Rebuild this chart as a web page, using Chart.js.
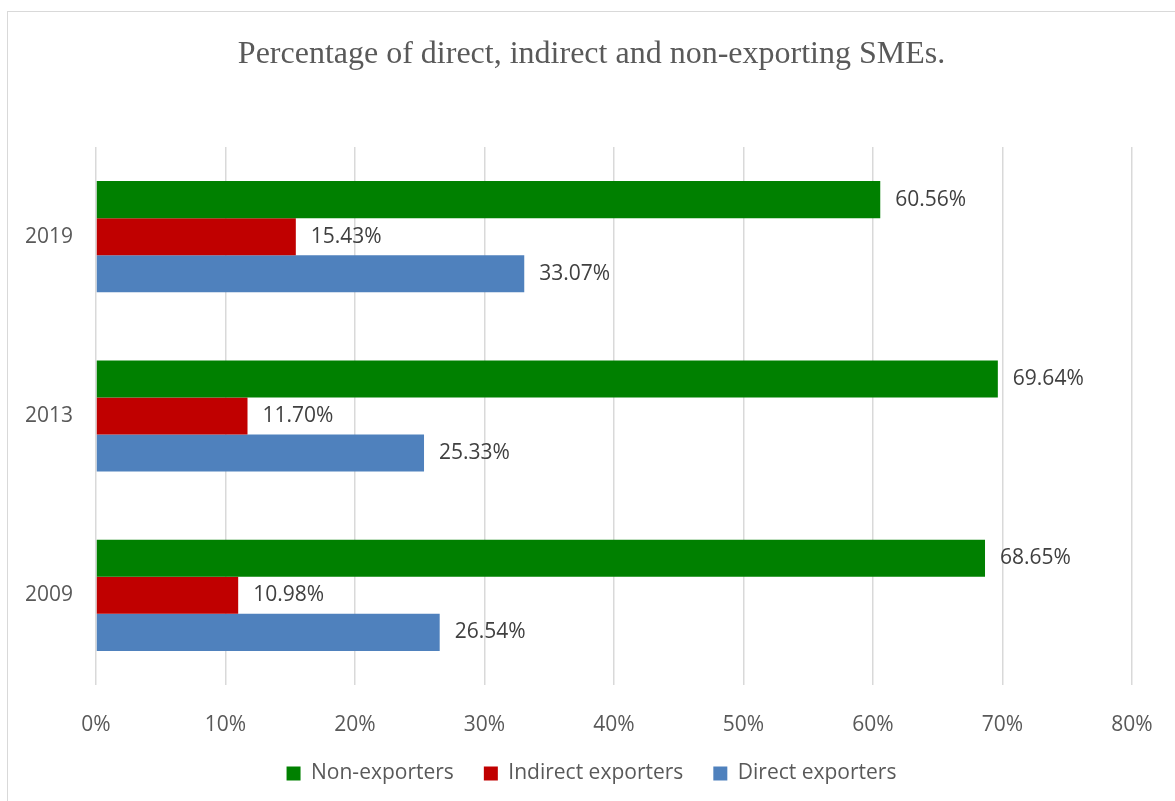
<!DOCTYPE html>
<html>
<head>
<meta charset="utf-8">
<script src="https://cdn.jsdelivr.net/npm/chart.js@4"></script>
<style>
  html, body { margin: 0; padding: 0; background: #fff; overflow: hidden; }
  #wrap { position: relative; width: 1175px; height: 801px; overflow: hidden; }
  #frame { position: absolute; left: 7px; top: 11px; width: 1200px; height: 830px; border: 1.5px solid #d9d9d9; }
  #c { position: absolute; left: 0; top: 0; }
</style>
</head>
<body>
<div id="wrap">
  <div id="frame"></div>
  <canvas id="c" width="1175" height="801"></canvas>
</div>
<script>
// Survey years, top to bottom
const years = ['2019', '2013', '2009'];

// Share of SMEs (%) per year
const nonExporters = [60.56, 69.64, 68.65];
const indirectExporters = [15.43, 11.70, 10.98];
const directExporters = [33.07, 25.33, 26.54];

// Value axis range and step (%)
const axisMin = 0;
const axisMax = 80;
const axisStep = 10;

const SANS = "'Open Sans', 'Noto Sans', sans-serif";

// Writes each bar's value just past its end
const barValueLabels = {
  id: 'barValueLabels',
  afterDatasetsDraw(chart) {
    const ctx = chart.ctx;
    ctx.save();
    ctx.font = `21px ${SANS}`;
    ctx.fillStyle = '#404040';
    ctx.textAlign = 'left';
    ctx.textBaseline = 'middle';
    chart.data.datasets.forEach((ds, i) => {
      chart.getDatasetMeta(i).data.forEach((bar, j) => {
        ctx.fillText(ds.data[j].toFixed(2) + '%', bar.x + 15, bar.y);
      });
    });
    ctx.restore();
  }
};

new Chart(document.getElementById('c'), {
  type: 'bar',
  data: {
    labels: years,
    datasets: [
      { label: 'Non-exporters', data: nonExporters, backgroundColor: '#008000' },
      { label: 'Indirect exporters', data: indirectExporters, backgroundColor: '#C00000' },
      { label: 'Direct exporters', data: directExporters, backgroundColor: '#4F81BD' }
    ]
  },
  options: {
    indexAxis: 'y',
    responsive: false,
    animation: false,
    devicePixelRatio: 1,
    layout: { padding: { left: 8, right: 0, top: 0, bottom: 7 } },
    datasets: { bar: { barPercentage: 1, categoryPercentage: 0.62 } },
    scales: {
      x: {
        min: axisMin,
        max: axisMax,
        ticks: {
          stepSize: axisStep,
          padding: 27,
          color: '#595959',
          font: { family: SANS, size: 21 },
          callback: v => v + '%'
        },
        grid: { color: '#d9d9d9', lineWidth: 1.5, drawTicks: false },
        border: { display: false },
        afterFit(axis) { axis.height = 48; axis.paddingRight = 43; }
      },
      y: {
        ticks: {
          padding: 23,
          color: '#595959',
          font: { family: SANS, size: 21 }
        },
        grid: { display: false, drawTicks: false },
        border: { display: false },
        afterFit(axis) { axis.width = 88; }
      }
    },
    plugins: {
      title: {
        display: true,
        text: 'Percentage of direct, indirect and non-exporting SMEs.',
        color: '#595959',
        font: { family: "'Liberation Serif', 'Times New Roman', serif", size: 32, weight: 'normal' },
        padding: { top: 35, bottom: 73.6 }
      },
      legend: {
        position: 'bottom',
        labels: {
          boxWidth: 14,
          boxHeight: 14,
          padding: 30,
          color: '#595959',
          font: { family: SANS, size: 21 }
        }
      },
      tooltip: { enabled: false }
    }
  },
  plugins: [barValueLabels]
});
</script>
</body>
</html>
